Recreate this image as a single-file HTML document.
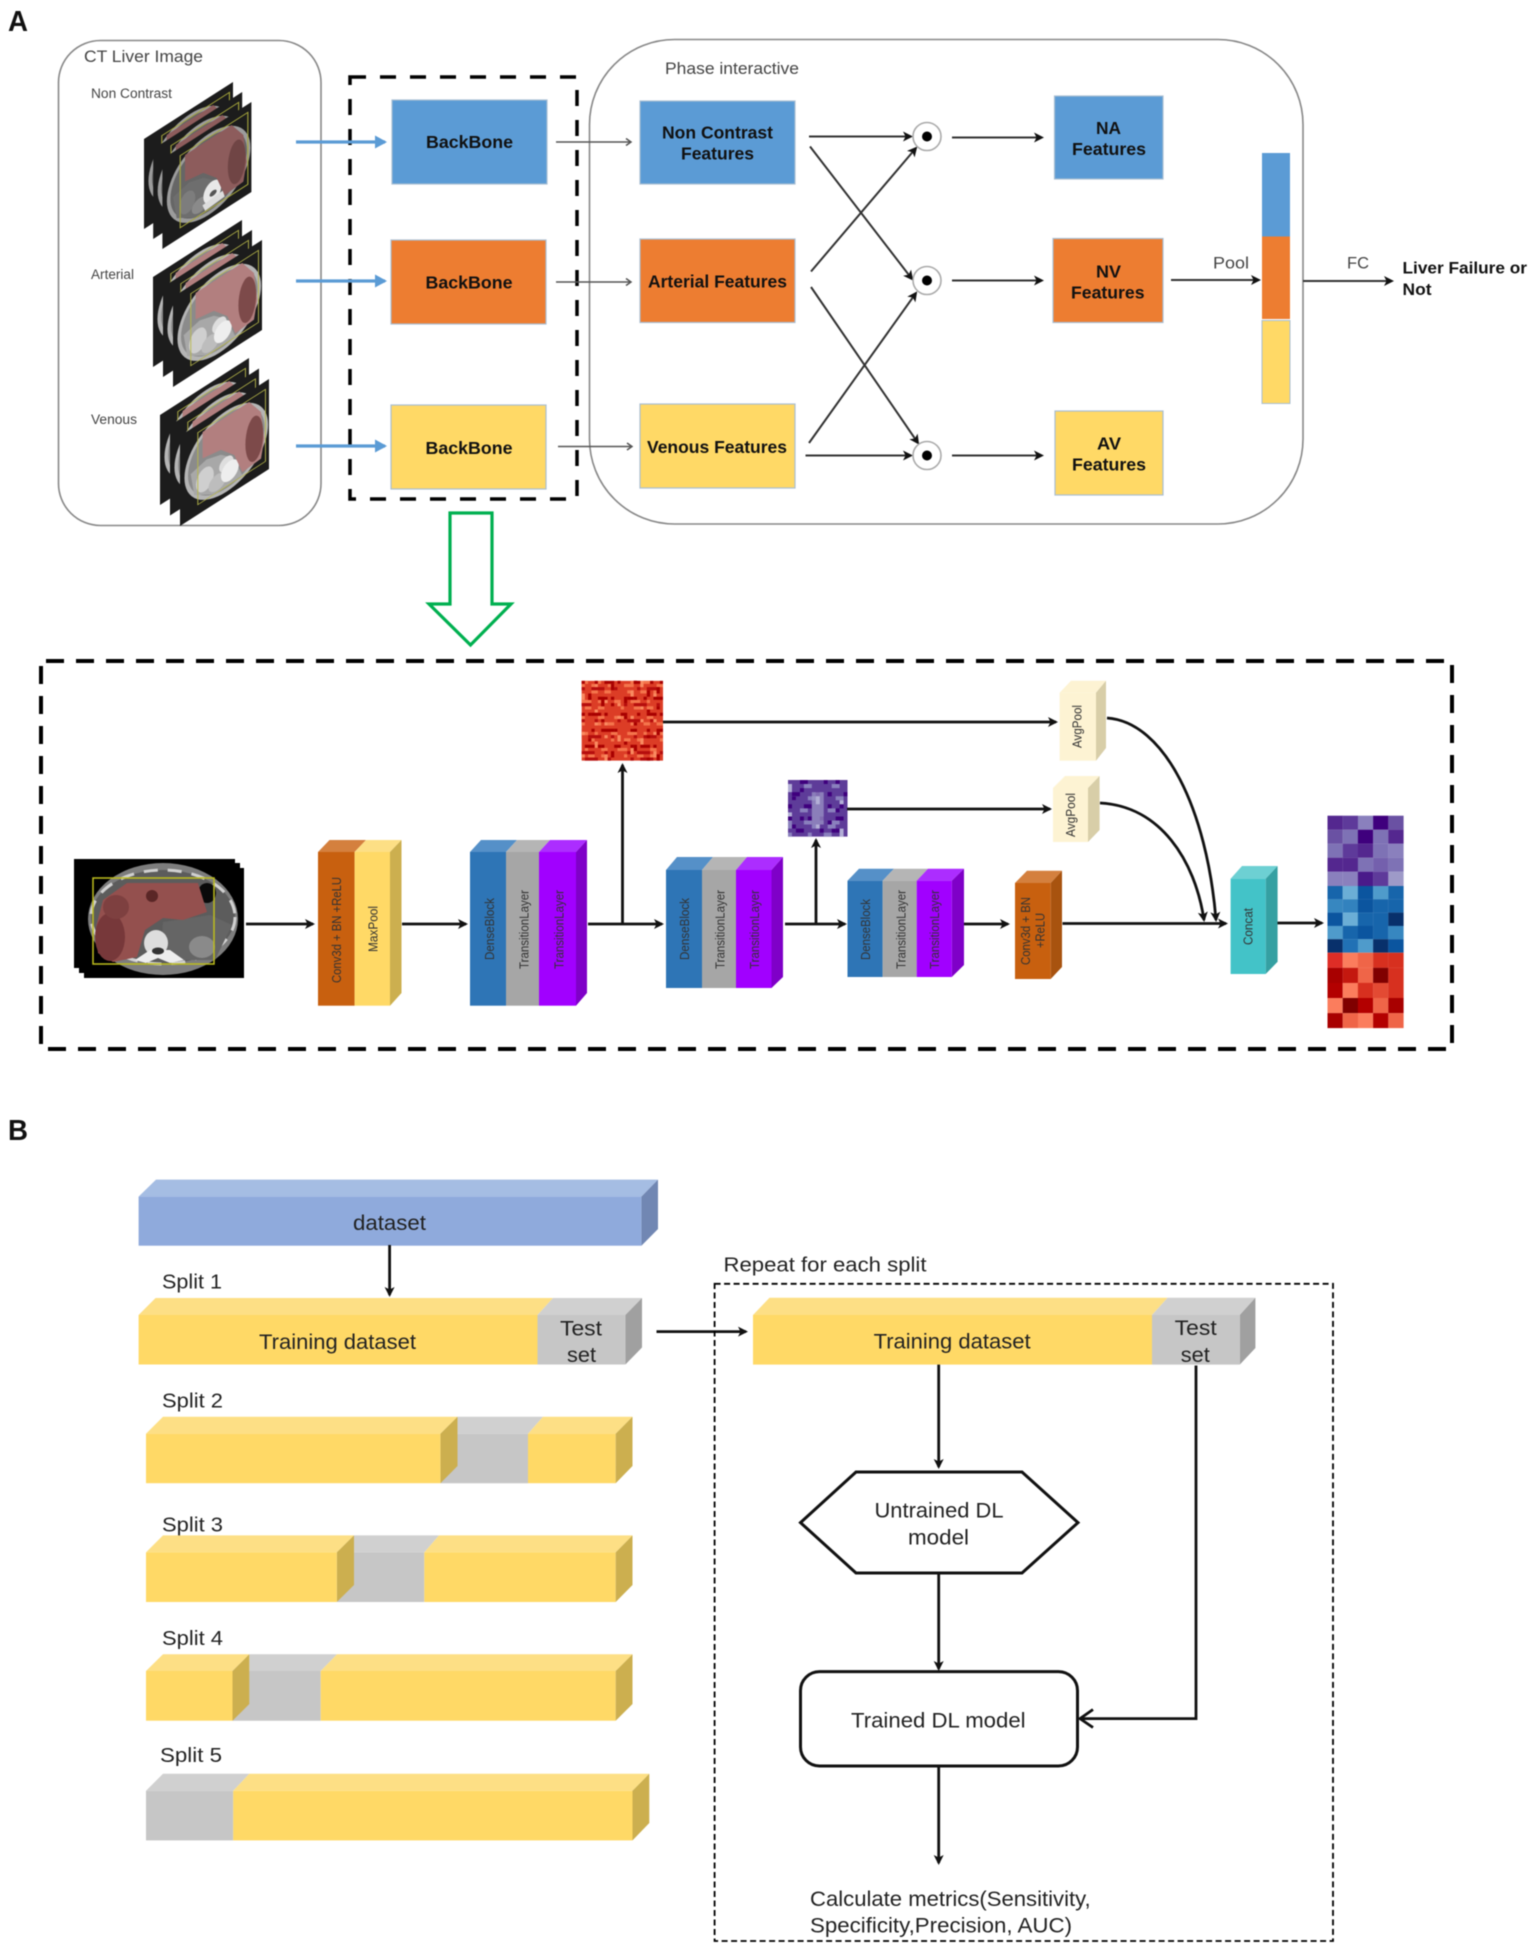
<!DOCTYPE html>
<html><head><meta charset="utf-8">
<style>
html,body{margin:0;padding:0;background:#fff}
svg{display:block;filter:blur(.5px)}
text{font-family:"Liberation Sans",sans-serif}
.b{font-weight:bold;fill:#111}
.g{fill:#444}
.r{font-size:13px;fill:#333}
.t{fill:#222}
.bx{stroke:#a9bfd3;stroke-width:1.2}
.a1{stroke:#333;stroke-width:2;fill:none;marker-end:url(#m)}
.a0{stroke:#555;stroke-width:1.5;fill:none;marker-end:url(#o)}
.a2{stroke:#111;stroke-width:2.8;fill:none;marker-end:url(#m)}
.blue{stroke:#5b9bd5;stroke-width:3.2;fill:none;marker-end:url(#mb)}
</style></head><body>
<svg width="1535" height="1948" viewBox="0 0 1535 1948" xmlns="http://www.w3.org/2000/svg">
<defs>
<marker id="m" markerUnits="userSpaceOnUse" markerWidth="12" markerHeight="12" refX="8" refY="5" orient="auto" overflow="visible"><path d="M0 0L10 5L0 10L2.5 5z" fill="#111"/></marker>
<marker id="mb" markerUnits="userSpaceOnUse" markerWidth="14" markerHeight="14" refX="10" refY="6.5" orient="auto" overflow="visible"><path d="M0 0L12 6.5L0 13z" fill="#5b9bd5"/></marker>
<marker id="o" markerUnits="userSpaceOnUse" markerWidth="12" markerHeight="12" refX="7" refY="4" orient="auto" overflow="visible"><path d="M2 .5L7 4L2 7.5" fill="none" stroke="#555" stroke-width="1.5"/></marker>
<clipPath id="c1"><rect width="25" height="25"/></clipPath>
<clipPath id="c2"><rect width="15" height="14"/></clipPath>
<g id="ct">
<rect width="100" height="100" fill="#1c1c1c"/>
<ellipse cx="52" cy="50" rx="47" ry="45" fill="#9c9c9c"/>
<ellipse cx="52" cy="50" rx="43" ry="41" fill="#666"/>
<path d="M12 50L30 45L46 50L60 62L70 88L40 90L16 76z" fill="#6e6e6e"/>
<ellipse cx="28" cy="66" rx="9" ry="12" fill="#7d7d7d"/>
<ellipse cx="42" cy="78" rx="9" ry="8" fill="#8a8a8a"/>
<ellipse cx="56" cy="72" rx="10" ry="12" fill="#e8e8e8"/>
<path d="M45 80L68 78L70 86L48 88z" fill="#ddd"/>
<ellipse cx="57" cy="74" rx="4" ry="3" fill="#555"/>
<path d="M25.400 11.600L77.800 11.500L91 31L94.700 63L91 82.800L70 84.600L61 59.800L46 44.600L25.400 41z" fill="#8d5c5c"/>
<ellipse cx="83.500" cy="56" rx="10" ry="24" fill="#704545"/>
<rect x="20" y="9" width="76" height="80" fill="none" stroke="#a8a83c" stroke-width="1.200"/>
</g>
<g id="ct2">
<rect width="100" height="100" fill="#1c1c1c"/>
<ellipse cx="52" cy="50" rx="47" ry="45" fill="#b5b5b5"/>
<ellipse cx="52" cy="50" rx="43" ry="41" fill="#8b8b8b"/>
<path d="M12 50L30 45L46 50L60 62L70 88L40 90L16 76z" fill="#a8a8a8"/>
<ellipse cx="28" cy="66" rx="10" ry="13" fill="#cfcfcf"/>
<ellipse cx="42" cy="78" rx="10" ry="9" fill="#bdbdbd"/>
<ellipse cx="52" cy="64" rx="8" ry="8" fill="#dedede"/>
<ellipse cx="56" cy="74" rx="10" ry="11" fill="#eee"/>
<path d="M25.400 11.600L77.800 11.500L91 31L94.700 63L91 82.800L70 84.600L61 59.800L46 44.600L25.400 41z" fill="#b27f7f"/>
<ellipse cx="83.500" cy="56" rx="10" ry="25" fill="#7d4a4a"/>
<rect x="20" y="9" width="76" height="80" fill="none" stroke="#b8b84a" stroke-width="1"/>
</g>
</defs>

<text x="8" y="31" font-size="29" font-weight="bold" fill="#111" textLength="20" lengthAdjust="spacingAndGlyphs">A</text>
<text x="8" y="1140" font-size="29" font-weight="bold" fill="#111" textLength="20" lengthAdjust="spacingAndGlyphs">B</text>

<rect x="58.500" y="40.500" width="262.500" height="485" rx="42" fill="#fff" stroke="#888" stroke-width="1.600"/>
<text x="84" y="62" font-size="16.500" class="g" textLength="119" lengthAdjust="spacingAndGlyphs">CT Liver Image</text>
<text x="91" y="98" font-size="13.500" class="g" textLength="81" lengthAdjust="spacingAndGlyphs">Non Contrast</text>
<text x="91" y="279" font-size="13.500" class="g" textLength="43" lengthAdjust="spacingAndGlyphs">Arterial</text>
<text x="91" y="424" font-size="13.500" class="g" textLength="46" lengthAdjust="spacingAndGlyphs">Venous</text>

<use href="#ct" transform="matrix(.89 -.57 0 .9 144 139)"/>
<use href="#ct" transform="matrix(.89 -.57 0 .9 153.200 149)"/>
<use href="#ct" transform="matrix(.89 -.57 0 .9 162.400 159)"/>
<use href="#ct2" transform="matrix(.89 -.57 0 .9 153 277)"/>
<use href="#ct2" transform="matrix(.89 -.57 0 .9 163 287)"/>
<use href="#ct2" transform="matrix(.89 -.57 0 .9 173 297)"/>
<use href="#ct2" transform="matrix(.89 -.57 0 .9 160 415)"/>
<use href="#ct2" transform="matrix(.89 -.57 0 .9 170 425.500)"/>
<use href="#ct2" transform="matrix(.89 -.57 0 .9 180 436)"/>

<rect x="350" y="77" width="227" height="422" fill="none" stroke="#000" stroke-width="3.500" stroke-dasharray="16 14"/>
<path class="blue" d="M296 142H385"/><path class="blue" d="M296 281H385"/><path class="blue" d="M296 446H385"/>

<rect class="bx" x="392" y="100" width="155" height="84" fill="#5b9bd5"/>
<rect class="bx" x="391" y="240" width="155" height="84" fill="#ed7d31"/>
<rect class="bx" x="391" y="405" width="155" height="84" fill="#ffd966"/>
<text class="b" x="426" y="148" font-size="17.500" textLength="87" lengthAdjust="spacingAndGlyphs">BackBone</text>
<text class="b" x="425.500" y="288.500" font-size="17.500" textLength="87" lengthAdjust="spacingAndGlyphs">BackBone</text>
<text class="b" x="425.500" y="454" font-size="17.500" textLength="87" lengthAdjust="spacingAndGlyphs">BackBone</text>

<rect x="589.500" y="39.500" width="713.500" height="484.500" rx="85" fill="none" stroke="#888" stroke-width="1.600"/>
<text x="665" y="74" font-size="16.500" class="g" textLength="134" lengthAdjust="spacingAndGlyphs">Phase interactive</text>

<path class="a0" d="M556 142H631"/><path class="a0" d="M556 282H631"/><path class="a0" d="M558 446.500H632"/>

<rect class="bx" x="640" y="101" width="155" height="83" fill="#5b9bd5"/>
<rect class="bx" x="640" y="239" width="155" height="83.500" fill="#ed7d31"/>
<rect class="bx" x="640" y="404" width="155" height="84" fill="#ffd966"/>
<text class="b" x="662" y="138.500" font-size="17.500" textLength="111" lengthAdjust="spacingAndGlyphs">Non Contrast</text>
<text class="b" x="681" y="159.500" font-size="17.500" textLength="73" lengthAdjust="spacingAndGlyphs">Features</text>
<text class="b" x="648" y="287.500" font-size="17.500" textLength="139" lengthAdjust="spacingAndGlyphs">Arterial Features</text>
<text class="b" x="647" y="453" font-size="17.500" textLength="140" lengthAdjust="spacingAndGlyphs">Venous Features</text>

<path class="a1" d="M809 136.500H911"/>
<path class="a1" d="M810 146.500L912 279"/>
<path class="a1" d="M811 271.500L916 148"/>
<path class="a1" d="M811 287L918 443"/>
<path class="a1" d="M809 443L916 293"/>
<path class="a1" d="M805.500 455.500H911"/>
<path class="a1" d="M952 137.500H1042"/><path class="a1" d="M952 280.500H1042"/><path class="a1" d="M952 455.500H1042"/>

<g fill="#fff" stroke="#aaa" stroke-width="1.600">
<circle cx="927" cy="136.500" r="14"/><circle cx="927" cy="280.500" r="14"/><circle cx="927" cy="455.500" r="14"/></g>
<g fill="#000"><circle cx="927" cy="136.500" r="5"/><circle cx="927" cy="280.500" r="5"/><circle cx="927" cy="455.500" r="5"/></g>

<rect class="bx" x="1054.500" y="96" width="108.500" height="83" fill="#5b9bd5"/>
<rect class="bx" x="1053" y="238.500" width="110" height="84" fill="#ed7d31"/>
<rect class="bx" x="1055" y="411" width="108" height="84" fill="#ffd966"/>
<text class="b" x="1096" y="134" font-size="17.500" textLength="25" lengthAdjust="spacingAndGlyphs">NA</text>
<text class="b" x="1072" y="155" font-size="17.500" textLength="74" lengthAdjust="spacingAndGlyphs">Features</text>
<text class="b" x="1096" y="277.500" font-size="17.500" textLength="25" lengthAdjust="spacingAndGlyphs">NV</text>
<text class="b" x="1071" y="298.500" font-size="17.500" textLength="73.500" lengthAdjust="spacingAndGlyphs">Features</text>
<text class="b" x="1097" y="449.500" font-size="17.500" textLength="24" lengthAdjust="spacingAndGlyphs">AV</text>
<text class="b" x="1072" y="470.500" font-size="17.500" textLength="74" lengthAdjust="spacingAndGlyphs">Features</text>

<rect x="1262" y="153" width="28" height="83.500" fill="#5b9bd5"/>
<rect x="1262" y="236.500" width="28" height="82.500" fill="#ed7d31"/>
<rect x="1262" y="320.500" width="28" height="83" fill="#ffd966" stroke="#a9bfd3" stroke-width="1"/>
<path class="a1" d="M1171 280H1259"/>
<path class="a1" d="M1303 281H1392"/>
<text x="1213" y="268.500" font-size="16.500" class="g" textLength="36" lengthAdjust="spacingAndGlyphs">Pool</text>
<text x="1347" y="268.500" font-size="16.500" class="g" textLength="22" lengthAdjust="spacingAndGlyphs">FC</text>
<text class="b" x="1402.500" y="273.500" font-size="16.500" textLength="124.500" lengthAdjust="spacingAndGlyphs">Liver Failure or</text>
<text class="b" x="1402.500" y="295" font-size="16.500" textLength="29" lengthAdjust="spacingAndGlyphs">Not</text>

<path d="M450 513H492V604H511L470.500 645L429 604H450z" fill="#fff" stroke="#00b050" stroke-width="3.200"/>

<path d="M46 661H1452V1049H41V661" fill="none" stroke="#000" stroke-width="4" stroke-dasharray="18 12"/>

<!-- axial CT -->
<rect x="74" y="859" width="161" height="109" fill="#000"/>
<rect x="79" y="863" width="161" height="110" fill="#000"/>
<rect x="84" y="868" width="160" height="110" fill="#000"/>
<ellipse cx="163" cy="919" rx="75" ry="56" fill="#7d7d7d"/>
<ellipse cx="163" cy="917" rx="72" ry="47" fill="#5c5c5c" stroke="#d0d0d0" stroke-width="3" stroke-dasharray="14 10"/>
<path d="M163 922L210 915L232 925L215 960H160z" fill="#656565"/>
<ellipse cx="202" cy="947" rx="13" ry="11" fill="#8a8a8a"/>
<ellipse cx="207" cy="893" rx="9" ry="10" fill="#0a0a0a"/>
<path d="M96 927L103 900L127 883L198 883L207 912L183 920L163 918L145 930L137 957L113 962L98 953z" fill="#94504e"/>
<ellipse cx="110" cy="937" rx="15" ry="24" fill="#77383a"/>
<ellipse cx="116" cy="907" rx="13" ry="12" fill="#7e4040"/>
<ellipse cx="152" cy="896" rx="6" ry="6" fill="#5a2626"/>
<ellipse cx="156" cy="943" rx="12" ry="13" fill="#ddd"/>
<path d="M135 960L150 950L170 950L184 960L170 963L158 958L146 963z" fill="#eee"/>
<ellipse cx="158" cy="951" rx="6" ry="3.500" fill="#333"/>
<rect x="93" y="878" width="121" height="86" fill="none" stroke="#bdbd1e" stroke-width="1.500"/>

<!-- block 1 -->
<polygon points="318,852 329.500,840 366,840 354.600,852" fill="#d4803e"/>
<polygon points="354.600,852 366,840 401.500,840 390,852" fill="#fddf85"/>
<polygon points="390,852 401.500,840 401.500,993 390,1005.700" fill="#ccaf4f"/>
<rect x="318" y="852" width="36.600" height="153.700" fill="#c8600f"/>
<rect x="354.600" y="852" width="35.400" height="153.700" fill="#ffd966"/>
<text class="r" transform="translate(341,983) rotate(-90)" textLength="106" lengthAdjust="spacingAndGlyphs">Conv3d + BN +ReLU</text>
<text class="r" transform="translate(377.500,952) rotate(-90)" textLength="46" lengthAdjust="spacingAndGlyphs">MaxPool</text>

<!-- block 2 -->
<polygon points="470,852 481,840 517,840 506,852" fill="#5590c8"/>
<polygon points="506,852 517,840 550,840 539,852" fill="#b5b5b5"/>
<polygon points="539,852 550,840 587,840 576,852" fill="#ac2dff"/>
<polygon points="576,852 587,840 587,993 576,1005.700" fill="#7f00c8"/>
<rect x="470" y="852" width="36" height="153.700" fill="#2e75b6"/>
<rect x="506" y="852" width="33" height="153.700" fill="#a6a6a6"/>
<rect x="539" y="852" width="37" height="153.700" fill="#a100ff"/>
<text class="r" transform="translate(494,960) rotate(-90)" textLength="62" lengthAdjust="spacingAndGlyphs">DenseBlock</text>
<text class="r" transform="translate(528.500,969) rotate(-90)" textLength="79" lengthAdjust="spacingAndGlyphs">TransitionLayer</text>
<text class="r" transform="translate(563.500,969) rotate(-90)" textLength="79" lengthAdjust="spacingAndGlyphs">TransitionLayer</text>

<!-- block 3 -->
<polygon points="666,870 677,857 713,857 702,870" fill="#5590c8"/>
<polygon points="702,870 713,857 747,857 736,870" fill="#b5b5b5"/>
<polygon points="736,870 747,857 783,857 771.500,870" fill="#ac2dff"/>
<polygon points="771.500,870 783,857 783,977 771.500,988" fill="#7f00c8"/>
<rect x="666" y="870" width="36" height="118" fill="#2e75b6"/>
<rect x="702" y="870" width="34" height="118" fill="#a6a6a6"/>
<rect x="736" y="870" width="35.500" height="118" fill="#a100ff"/>
<text class="r" transform="translate(689,960) rotate(-90)" textLength="62" lengthAdjust="spacingAndGlyphs">DenseBlock</text>
<text class="r" transform="translate(724.500,969) rotate(-90)" textLength="79" lengthAdjust="spacingAndGlyphs">TransitionLayer</text>
<text class="r" transform="translate(759,969) rotate(-90)" textLength="79" lengthAdjust="spacingAndGlyphs">TransitionLayer</text>

<!-- block 4 -->
<polygon points="847.500,880.700 859,868.700 894,868.700 882.600,880.700" fill="#5590c8"/>
<polygon points="882.600,880.700 894,868.700 928,868.700 916.700,880.700" fill="#b5b5b5"/>
<polygon points="916.700,880.700 928,868.700 964,868.700 951.800,880.700" fill="#ac2dff"/>
<polygon points="951.800,880.700 964,868.700 964,965 951.800,977" fill="#7f00c8"/>
<rect x="847.500" y="880.700" width="35.100" height="96.300" fill="#2e75b6"/>
<rect x="882.600" y="880.700" width="34.100" height="96.300" fill="#a6a6a6"/>
<rect x="916.700" y="880.700" width="35.100" height="96.300" fill="#a100ff"/>
<text class="r" transform="translate(870,960) rotate(-90)" textLength="61" lengthAdjust="spacingAndGlyphs">DenseBlock</text>
<text class="r" transform="translate(905.500,969) rotate(-90)" textLength="79" lengthAdjust="spacingAndGlyphs">TransitionLayer</text>
<text class="r" transform="translate(939,969) rotate(-90)" textLength="79" lengthAdjust="spacingAndGlyphs">TransitionLayer</text>

<!-- block 5 -->
<polygon points="1015,883 1027,870.700 1062,870.700 1050.700,883" fill="#d4803e"/>
<polygon points="1050.700,883 1062,870.700 1062,967 1050.700,979" fill="#a8530f"/>
<rect x="1015" y="883" width="35.700" height="96" fill="#c8600f"/>
<text class="r" transform="translate(1030,965) rotate(-90)" textLength="68" lengthAdjust="spacingAndGlyphs">Conv3d + BN</text>
<text class="r" transform="translate(1044.500,948) rotate(-90)" textLength="35" lengthAdjust="spacingAndGlyphs">+ReLU</text>

<!-- concat -->
<polygon points="1230.600,878.700 1242,866 1277.600,866 1265.700,878.700" fill="#6dd0d3"/>
<polygon points="1265.700,878.700 1277.600,866 1277.600,961.700 1265.700,974" fill="#35a0a2"/>
<rect x="1230.600" y="878.700" width="35.100" height="95.300" fill="#43c3c8"/>
<text class="r" transform="translate(1252.500,945) rotate(-90)" textLength="37" lengthAdjust="spacingAndGlyphs">Concat</text>

<!-- avgpool -->
<polygon points="1059.600,692.700 1071,680.700 1106,680.700 1096,692.700" fill="#fdf3d3"/>
<polygon points="1096,692.700 1106,680.700 1106,748 1096,760.700" fill="#d8cea8"/>
<rect x="1059.600" y="692.700" width="36.400" height="68" fill="#fdf3d3"/>
<text class="r" transform="translate(1081.500,748) rotate(-90)" textLength="43" lengthAdjust="spacingAndGlyphs">AvgPool</text>
<polygon points="1053,788 1065,776 1099.600,776 1088,788" fill="#fdf3d3"/>
<polygon points="1088,788 1099.600,776 1099.600,830 1088,842" fill="#d8cea8"/>
<rect x="1053" y="788" width="35" height="54" fill="#fdf3d3"/>
<text class="r" transform="translate(1075,837) rotate(-90)" textLength="44" lengthAdjust="spacingAndGlyphs">AvgPool</text>

<!-- small red heatmap -->
<g transform="translate(581.600,680.700) scale(3.26,3.2)">
<g clip-path="url(#c1)">
<rect width="25" height="25" fill="#dc3d26"/>
<path fill="none" stroke="#f4754c" stroke-width="1" stroke-dasharray="3 2 1 4 2 3" d="M-2 1.500H25M0 6.500H25M-5 11.500H25M-1 16.500H25M-4 21.500H25"/>
<path fill="none" stroke="#f4754c" stroke-width="1" stroke-dasharray="1 3 2 2 2 5" d="M-1 3.500H25M-3 8.500H25M0 13.500H25M-6 18.500H25M-2 23.500H25M-4 .5H25"/>
<path fill="none" stroke="#f98a60" stroke-width="1" stroke-dasharray="1 5 2 6 1 3" d="M.5 -2V25M4.500 -5V25M7.500 -1V25M11.500 -7V25M15.500 -3V25M18.500 -6V25M22.500 -2V25"/>
<path fill="none" stroke="#a80000" stroke-width="1" stroke-dasharray="2 3 1 2 3 1 1 4" d="M-1 .5H25M-3 5.500H25M-5 10.500H25M-2 15.500H25M-7 20.500H25"/>
<path fill="none" stroke="#b50d0d" stroke-width="1" stroke-dasharray="1 2 4 3 1 6" d="M0 2.500H25M-4 7.500H25M-6 12.500H25M-1 17.500H25M-3 22.500H25M-2 24.500H25"/>
<path fill="none" stroke="#a80000" stroke-width="1" stroke-dasharray="1 6 2 4 1 7" d="M2.500 -3V25M6.500 -1V25M9.500 -6V25M13.500 -2V25M16.500 -8V25M20.500 -4V25M23.500 -5V25"/>
</g></g>
<!-- small purple heatmap -->
<g transform="translate(788,780) scale(3.97,4.05)">
<g clip-path="url(#c2)">
<rect width="15" height="14" fill="#5e3c99"/>
<path fill="none" stroke="#3f007d" stroke-width="1" stroke-dasharray="1 3 2 4 1 2" d="M-1 .5H15M-3 3.500H15M0 6.500H15M-5 9.500H15M-2 12.500H15"/>
<path fill="none" stroke="#8a80bd" stroke-width="1" stroke-dasharray="2 4 1 3 2 5" d="M-6 1.500H15M-5 4.500H15M-7 7.500H15M-6 10.500H15M-1 13.500H15M0 11.500H15"/>
<rect x="6" y="3" width="3" height="8" fill="#9e9ac8" opacity=".7"/>
<path fill="none" stroke="#3f007d" stroke-width="1" stroke-dasharray="1 4 1 6" d="M1.500 -1V14M3.500 -3V14M10.500 -2V14M12.500 -5V14"/>
<path fill="none" stroke="#b3afd6" stroke-width="1" stroke-dasharray="1 6 2 5" d="M7.500 -3V14M.5 -6V14M13.500 -9V14"/>
</g></g>
<!-- big heatmap -->
<g transform="translate(1327.500,815.700)">
<g>
<rect x="0" y="0" width="15.300" height="14.100" fill="#54278f"/><rect x="15.200" y="0" width="15.300" height="14.100" fill="#5e3a9a"/><rect x="30.400" y="0" width="15.300" height="14.100" fill="#8a80bd"/><rect x="45.600" y="0" width="15.300" height="14.100" fill="#3f007d"/><rect x="60.800" y="0" width="15.300" height="14.100" fill="#6a51a3"/>
<rect x="0" y="14" width="15.300" height="14.100" fill="#6a51a3"/><rect x="15.200" y="14" width="15.300" height="14.100" fill="#7e72b5"/><rect x="30.400" y="14" width="15.300" height="14.100" fill="#3f007d"/><rect x="45.600" y="14" width="15.300" height="14.100" fill="#7e72b5"/><rect x="60.800" y="14" width="15.300" height="14.100" fill="#54278f"/>
<rect x="0" y="28" width="15.300" height="14.100" fill="#7e72b5"/><rect x="15.200" y="28" width="15.300" height="14.100" fill="#5e3a9a"/><rect x="30.400" y="28" width="15.300" height="14.100" fill="#54278f"/><rect x="45.600" y="28" width="15.300" height="14.100" fill="#7e72b5"/><rect x="60.800" y="28" width="15.300" height="14.100" fill="#8a80bd"/>
<rect x="0" y="42" width="15.300" height="14.100" fill="#54278f"/><rect x="15.200" y="42" width="15.300" height="14.100" fill="#54278f"/><rect x="30.400" y="42" width="15.300" height="14.100" fill="#7e72b5"/><rect x="45.600" y="42" width="15.300" height="14.100" fill="#7460ad"/><rect x="60.800" y="42" width="15.300" height="14.100" fill="#7e72b5"/>
<rect x="0" y="56" width="15.300" height="14.300" fill="#8a80bd"/><rect x="15.200" y="56" width="15.300" height="14.300" fill="#8a80bd"/><rect x="30.400" y="56" width="15.300" height="14.300" fill="#4a1a8a"/><rect x="45.600" y="56" width="15.300" height="14.300" fill="#5e3a9a"/><rect x="60.800" y="56" width="15.300" height="14.300" fill="#9e9ac8"/>
</g>
<g transform="translate(0,70.300)">
<rect x="0" y="0" width="15.300" height="13.400" fill="#1765ab"/><rect x="15.200" y="0" width="15.300" height="13.400" fill="#6baed6"/><rect x="30.400" y="0" width="15.300" height="13.400" fill="#0b559f"/><rect x="45.600" y="0" width="15.300" height="13.400" fill="#4f9bcb"/><rect x="60.800" y="0" width="15.300" height="13.400" fill="#1765ab"/>
<rect x="0" y="13.300" width="15.300" height="13.400" fill="#3787c0"/><rect x="15.200" y="13.300" width="15.300" height="13.400" fill="#3282be"/><rect x="30.400" y="13.300" width="15.300" height="13.400" fill="#0b559f"/><rect x="45.600" y="13.300" width="15.300" height="13.400" fill="#1765ab"/><rect x="60.800" y="13.300" width="15.300" height="13.400" fill="#1765ab"/>
<rect x="0" y="26.600" width="15.300" height="13.400" fill="#0b559f"/><rect x="15.200" y="26.600" width="15.300" height="13.400" fill="#6baed6"/><rect x="30.400" y="26.600" width="15.300" height="13.400" fill="#1765ab"/><rect x="45.600" y="26.600" width="15.300" height="13.400" fill="#1765ab"/><rect x="60.800" y="26.600" width="15.300" height="13.400" fill="#08306b"/>
<rect x="0" y="39.900" width="15.300" height="13.400" fill="#4f9bcb"/><rect x="15.200" y="39.900" width="15.300" height="13.400" fill="#1765ab"/><rect x="30.400" y="39.900" width="15.300" height="13.400" fill="#0b559f"/><rect x="45.600" y="39.900" width="15.300" height="13.400" fill="#1765ab"/><rect x="60.800" y="39.900" width="15.300" height="13.400" fill="#3787c0"/>
<rect x="0" y="53.200" width="15.300" height="13.500" fill="#08306b"/><rect x="15.200" y="53.200" width="15.300" height="13.500" fill="#2171b5"/><rect x="30.400" y="53.200" width="15.300" height="13.500" fill="#4f9bcb"/><rect x="45.600" y="53.200" width="15.300" height="13.500" fill="#08306b"/><rect x="60.800" y="53.200" width="15.300" height="13.500" fill="#0b559f"/>
</g>
<g transform="translate(0,137)">
<rect x="0" y="0" width="15.300" height="15.200" fill="#de2d26"/><rect x="15.200" y="0" width="15.300" height="15.200" fill="#fb7d5d"/><rect x="30.400" y="0" width="15.300" height="15.200" fill="#ef6548"/><rect x="45.600" y="0" width="15.300" height="15.200" fill="#d7301f"/><rect x="60.800" y="0" width="15.300" height="15.200" fill="#d7301f"/>
<rect x="0" y="15.100" width="15.300" height="15.200" fill="#a80000"/><rect x="15.200" y="15.100" width="15.300" height="15.200" fill="#c4180f"/><rect x="30.400" y="15.100" width="15.300" height="15.200" fill="#ef6548"/><rect x="45.600" y="15.100" width="15.300" height="15.200" fill="#800000"/><rect x="60.800" y="15.100" width="15.300" height="15.200" fill="#d7301f"/>
<rect x="0" y="30.200" width="15.300" height="15.200" fill="#b30000"/><rect x="15.200" y="30.200" width="15.300" height="15.200" fill="#fb7d5d"/><rect x="30.400" y="30.200" width="15.300" height="15.200" fill="#d7301f"/><rect x="45.600" y="30.200" width="15.300" height="15.200" fill="#e34a33"/><rect x="60.800" y="30.200" width="15.300" height="15.200" fill="#d7301f"/>
<rect x="0" y="45.300" width="15.300" height="15.200" fill="#fb7d5d"/><rect x="15.200" y="45.300" width="15.300" height="15.200" fill="#7f0000"/><rect x="30.400" y="45.300" width="15.300" height="15.200" fill="#b30000"/><rect x="45.600" y="45.300" width="15.300" height="15.200" fill="#ef6548"/><rect x="60.800" y="45.300" width="15.300" height="15.200" fill="#a80000"/>
<rect x="0" y="60.400" width="15.300" height="15" fill="#a80000"/><rect x="15.200" y="60.400" width="15.300" height="15" fill="#ef6548"/><rect x="30.400" y="60.400" width="15.300" height="15" fill="#fb7d5d"/><rect x="45.600" y="60.400" width="15.300" height="15" fill="#b30000"/><rect x="60.800" y="60.400" width="15.300" height="15" fill="#ef6548"/>
</g>
</g>

<!-- backbone connectors -->
<path class="a2" d="M246 924H313"/><path class="a2" d="M402 924H466"/><path class="a2" d="M588 924H662"/>
<path class="a2" d="M622.500 924V765" stroke-width="2.400"/>
<path class="a2" d="M663 722H1056"/>
<path class="a2" d="M785 924H845"/>
<path class="a2" d="M816 924V840" stroke-width="2.400"/>
<path class="a2" d="M847 809H1050"/>
<path class="a2" d="M964 924H1008"/>
<path class="a2" d="M1062.500 923.500H1226"/>
<path class="a2" d="M1277.500 923H1322"/>
<path class="a2" d="M1107 718C1165 722 1207 810 1216 920"/>
<path class="a2" d="M1100 803C1160 806 1195 860 1204 920"/>

<!-- part B: dataset -->
<polygon points="138.600,1196.600 156,1179.600 658,1179.600 641.400,1196.600" fill="#a5bde3"/>
<polygon points="641.400,1196.600 658,1179.600 658,1229 641.400,1245.700" fill="#7187b3"/>
<rect x="138.600" y="1196.600" width="502.800" height="49.100" fill="#8faadc"/>
<text class="t" x="353" y="1230" font-size="21.500" textLength="73" lengthAdjust="spacingAndGlyphs">dataset</text>
<path class="a2" d="M389.600 1245V1295" stroke-width="3"/>
<text class="t" x="162" y="1288.500" font-size="20.500" textLength="60" lengthAdjust="spacingAndGlyphs">Split 1</text>
<text class="t" x="162" y="1407.300" font-size="20.500" textLength="61" lengthAdjust="spacingAndGlyphs">Split 2</text>
<text class="t" x="162" y="1531.400" font-size="20.500" textLength="61" lengthAdjust="spacingAndGlyphs">Split 3</text>
<text class="t" x="162" y="1644.800" font-size="20.500" textLength="61" lengthAdjust="spacingAndGlyphs">Split 4</text>
<text class="t" x="160" y="1762" font-size="20.500" textLength="62" lengthAdjust="spacingAndGlyphs">Split 5</text>

<!-- split 1 -->
<polygon points="138.600,1315 155.600,1298 553,1298 537.500,1315" fill="#fddf85"/>
<polygon points="537.500,1315 553,1298 642,1298 625.400,1315" fill="#d0d0d0"/>
<polygon points="625.400,1315 642,1298 642,1347.500 625.400,1364.500" fill="#a0a0a0"/>
<rect x="138.600" y="1315" width="398.900" height="49.500" fill="#ffd966"/>
<rect x="537.500" y="1315" width="87.900" height="49.500" fill="#c6c6c6"/>
<text class="t" x="259" y="1349" font-size="21" textLength="157" lengthAdjust="spacingAndGlyphs">Training dataset</text>
<text class="t" x="560" y="1335.400" font-size="21.500" textLength="42" lengthAdjust="spacingAndGlyphs">Test</text>
<text class="t" x="567" y="1361.800" font-size="21.500" textLength="29" lengthAdjust="spacingAndGlyphs">set</text>
<path class="a2" d="M656.500 1331.600H746"/>

<!-- split 2 -->
<polygon points="146,1433.700 163,1416.700 457.500,1416.700 440.400,1433.700" fill="#fddf85"/>
<polygon points="457.500,1416.700 543,1416.700 528,1433.700 457.500,1433.700" fill="#d0d0d0"/>
<polygon points="457.500,1433.700 528,1433.700 528,1483.200 440.400,1483.200" fill="#c6c6c6"/>
<polygon points="440.400,1433.700 457.500,1416.700 457.500,1466 440.400,1483.200" fill="#ccaf4f"/>
<rect x="146" y="1433.700" width="294.400" height="49.500" fill="#ffd966"/>
<polygon points="528,1433.700 543,1416.700 632.500,1416.700 615.700,1433.700" fill="#fddf85"/>
<rect x="528" y="1433.700" width="87.700" height="49.500" fill="#ffd966"/>
<polygon points="615.700,1433.700 632.500,1416.700 632.500,1466 615.700,1483.200" fill="#ccaf4f"/>

<!-- split 3 -->
<polygon points="146,1552.400 163,1535.400 354,1535.400 336.800,1552.400" fill="#fddf85"/>
<polygon points="354,1535.400 439,1535.400 424.300,1552.400 354,1552.400" fill="#d0d0d0"/>
<polygon points="354,1552.400 424.300,1552.400 424.300,1602 336.800,1602" fill="#c6c6c6"/>
<polygon points="336.800,1552.400 354,1535.400 354,1585 336.800,1602" fill="#ccaf4f"/>
<rect x="146" y="1552.400" width="190.800" height="49.600" fill="#ffd966"/>
<polygon points="424.300,1552.400 439,1535.400 632.500,1535.400 615.700,1552.400" fill="#fddf85"/>
<rect x="424.300" y="1552.400" width="191.400" height="49.600" fill="#ffd966"/>
<polygon points="615.700,1552.400 632.500,1535.400 632.500,1585 615.700,1602" fill="#ccaf4f"/>

<!-- split 4 -->
<polygon points="146,1671 163,1654.200 249.300,1654.200 232.500,1671" fill="#fddf85"/>
<polygon points="249.300,1654.200 337,1654.200 320.700,1671 249.300,1671" fill="#d0d0d0"/>
<polygon points="249.300,1671 320.700,1671 320.700,1720.700 232.500,1720.700" fill="#c6c6c6"/>
<polygon points="232.500,1671 249.300,1654.200 249.300,1704 232.500,1720.700" fill="#ccaf4f"/>
<rect x="146" y="1671" width="86.500" height="49.700" fill="#ffd966"/>
<polygon points="320.700,1671 337,1654.200 632.500,1654.200 615.700,1671" fill="#fddf85"/>
<rect x="320.700" y="1671" width="295" height="49.700" fill="#ffd966"/>
<polygon points="615.700,1671 632.500,1654.200 632.500,1704 615.700,1720.700" fill="#ccaf4f"/>

<!-- split 5 -->
<polygon points="146,1790.800 163,1773.800 249.300,1773.800 233.200,1790.800" fill="#d0d0d0"/>
<rect x="146" y="1790.800" width="87.200" height="49.600" fill="#c6c6c6"/>
<polygon points="233.200,1790.800 249.300,1773.800 649.300,1773.800 632.500,1790.800" fill="#fddf85"/>
<rect x="233.200" y="1790.800" width="399.300" height="49.600" fill="#ffd966"/>
<polygon points="632.500,1790.800 649.300,1773.800 649.300,1823 632.500,1840.400" fill="#ccaf4f"/>

<!-- repeat -->
<text class="t" x="723.500" y="1271.600" font-size="20.500" textLength="203" lengthAdjust="spacingAndGlyphs">Repeat for each split</text>
<rect x="714.600" y="1283.800" width="618.400" height="657.200" fill="none" stroke="#000" stroke-width="1.800" stroke-dasharray="6 3.500"/>
<polygon points="753,1315 769.500,1297.800 1167.600,1297.800 1152,1315" fill="#fddf85"/>
<polygon points="1152,1315 1167.600,1297.800 1255.400,1297.800 1239.800,1315" fill="#d0d0d0"/>
<polygon points="1239.800,1315 1255.400,1297.800 1255.400,1348 1239.800,1364.600" fill="#a0a0a0"/>
<rect x="753" y="1315" width="399" height="49.600" fill="#ffd966"/>
<rect x="1152" y="1315" width="87.800" height="49.600" fill="#c6c6c6"/>
<text class="t" x="873.600" y="1348.400" font-size="21" textLength="157" lengthAdjust="spacingAndGlyphs">Training dataset</text>
<text class="t" x="1174.700" y="1335" font-size="21.500" textLength="42" lengthAdjust="spacingAndGlyphs">Test</text>
<text class="t" x="1180.800" y="1362" font-size="21.500" textLength="29" lengthAdjust="spacingAndGlyphs">set</text>

<path class="a2" d="M938.700 1364.600V1467"/>
<polygon points="800.500,1522.600 856,1472 1022,1472 1078,1522.600 1022,1573 856,1573" fill="#fff" stroke="#111" stroke-width="3"/>
<text class="t" x="874.500" y="1517.600" font-size="21" textLength="129" lengthAdjust="spacingAndGlyphs">Untrained DL</text>
<text class="t" x="908" y="1544.700" font-size="21" textLength="61" lengthAdjust="spacingAndGlyphs">model</text>
<path class="a2" d="M938.700 1573V1669"/>
<rect x="800.500" y="1671.600" width="277" height="94.400" rx="19" fill="#fff" stroke="#111" stroke-width="3"/>
<text class="t" x="851" y="1727.600" font-size="21" textLength="174.600" lengthAdjust="spacingAndGlyphs">Trained DL model</text>
<path class="a2" d="M938.700 1766V1863"/>
<path d="M1196 1365.500V1718.600H1081" fill="none" stroke="#111" stroke-width="2.800"/>
<path d="M1093 1709.500L1080 1718.600L1093 1727.500" fill="none" stroke="#111" stroke-width="2.800"/>
<text class="t" x="810" y="1906" font-size="21" textLength="280.700" lengthAdjust="spacingAndGlyphs">Calculate metrics(Sensitivity,</text>
<text class="t" x="810" y="1932.500" font-size="21" textLength="262" lengthAdjust="spacingAndGlyphs">Specificity,Precision, AUC)</text>
</svg>
</body></html>
